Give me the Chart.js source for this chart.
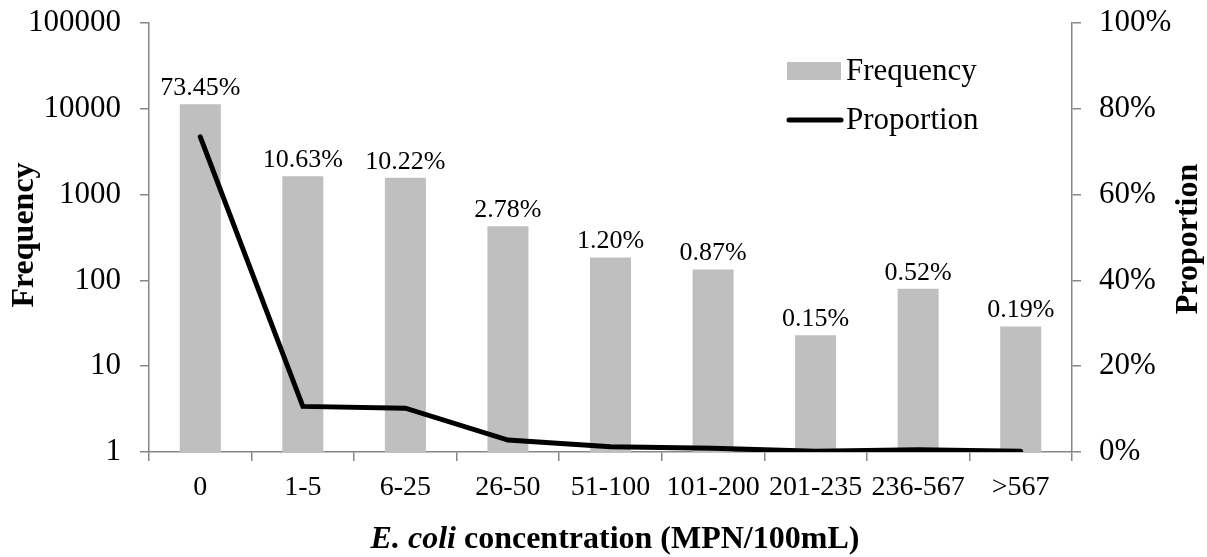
<!DOCTYPE html>
<html>
<head>
<meta charset="utf-8">
<script src="https://cdn.jsdelivr.net/npm/chart.js@4/dist/chart.umd.min.js"></script>
<style>
    body { margin: 0; background: #ffffff; }
    #wrap { width: 1207px; height: 557px; position: relative; }
</style>
</head>
<body>
<div id="wrap"><canvas id="ecoliChart" width="1207" height="557"></canvas></div>
<script>
// data
const categories = ['0', '1-5', '6-25', '26-50', '51-100', '101-200', '201-235', '236-567', '>567'];
const frequency = [11310, 1637, 1574, 428, 185, 134, 23, 80, 29];
const proportion = [73.45, 10.63, 10.22, 2.78, 1.20, 0.87, 0.15, 0.52, 0.19];
const freqTicks = [1, 10, 100, 1000, 10000, 100000];

const serif = '"Liberation Serif", "Times New Roman", serif';
const axisGray = '#868686';

// percent labels above the bars
const barLabels = {
    id: 'barLabels',
    afterDatasetsDraw(chart) {
        const ctx = chart.ctx;
        const meta = chart.getDatasetMeta(0);
        ctx.save();
        ctx.font = '26px ' + serif;
        ctx.fillStyle = '#000';
        ctx.textAlign = 'center';
        ctx.textBaseline = 'bottom';
        meta.data.forEach((bar, i) => {
            ctx.fillText(proportion[i].toFixed(2) + '%', bar.x, bar.y - 3);
        });
        ctx.restore();
    }
};

// legend + axis titles drawn by hand (Excel style)
const decorations = {
    id: 'decorations',
    afterDraw(chart) {
        const ctx = chart.ctx;
        ctx.save();

        // legend
        ctx.fillStyle = '#bfbfbf';
        ctx.fillRect(787, 62, 54, 18);
        ctx.strokeStyle = '#000';
        ctx.lineWidth = 5;
        ctx.lineCap = 'round';
        ctx.beginPath();
        ctx.moveTo(789, 120);
        ctx.lineTo(841, 120);
        ctx.stroke();
        ctx.fillStyle = '#000';
        ctx.font = '31px ' + serif;
        ctx.textAlign = 'left';
        ctx.textBaseline = 'middle';
        ctx.fillText('Frequency', 846, 72);
        ctx.fillText('Proportion', 846, 121);

        // y titles
        ctx.font = 'bold 32px ' + serif;
        ctx.textAlign = 'center';
        ctx.textBaseline = 'middle';
        ctx.save();
        ctx.translate(25, 235);
        ctx.rotate(-Math.PI / 2);
        ctx.fillText('Frequency', 0, 0);
        ctx.restore();
        ctx.save();
        ctx.translate(1189, 239);
        ctx.rotate(-Math.PI / 2);
        ctx.fillText('Proportion', 0, 0);
        ctx.restore();

        // x title, "E. coli" in italic
        const part1 = 'E. coli';
        const part2 = ' concentration (MPN/100mL)';
        ctx.textAlign = 'left';
        ctx.textBaseline = 'alphabetic';
        ctx.font = 'italic bold 32px ' + serif;
        const w1 = ctx.measureText(part1).width;
        ctx.font = 'bold 32px ' + serif;
        const w2 = ctx.measureText(part2).width;
        const startX = 615 - (w1 + w2) / 2;
        ctx.font = 'italic bold 32px ' + serif;
        ctx.fillText(part1, startX, 548);
        ctx.font = 'bold 32px ' + serif;
        ctx.fillText(part2, startX + w1, 548);

        ctx.restore();
    }
};

new Chart(document.getElementById('ecoliChart'), {
    data: {
        labels: categories,
        datasets: [
            {
                type: 'bar',
                label: 'Frequency',
                data: frequency,
                backgroundColor: '#bfbfbf',
                barPercentage: 0.4,
                categoryPercentage: 1,
                yAxisID: 'y',
                order: 1
            },
            {
                type: 'line',
                label: 'Proportion',
                data: proportion,
                borderColor: '#000',
                borderWidth: 5,
                borderCapStyle: 'round',
                pointRadius: 0,
                tension: 0,
                fill: false,
                yAxisID: 'y1',
                order: 0
            }
        ]
    },
    options: {
        responsive: false,
        animation: false,
        layout: { padding: { top: 23, left: 0, right: 0, bottom: 0 } },
        plugins: {
            legend: { display: false },
            tooltip: { enabled: false }
        },
        scales: {
            x: {
                offset: true,
                grid: { offset: true, drawOnChartArea: false, tickLength: 9, color: axisGray, lineWidth: 1.5 },
                border: { color: axisGray, width: 1.5 },
                ticks: { color: '#000', font: { family: serif, size: 28 }, padding: 10, maxRotation: 0, autoSkip: false },
                afterFit: (scale) => { scale.height = 105; }
            },
            y: {
                type: 'logarithmic',
                position: 'left',
                min: 1,
                max: 100000,
                afterBuildTicks: (scale) => { scale.ticks = freqTicks.map(v => ({ value: v })); },
                grid: { drawOnChartArea: false, tickLength: 9, color: axisGray, lineWidth: 1.5 },
                border: { color: axisGray, width: 1.5 },
                ticks: { color: '#000', font: { family: serif, size: 31, lineHeight: 0.25 }, padding: 19, callback: (v) => String(v) },
                afterFit: (scale) => { scale.width = 149; }
            },
            y1: {
                type: 'linear',
                position: 'right',
                min: 0,
                max: 100,
                grid: { drawOnChartArea: false, tickLength: 9, color: axisGray, lineWidth: 1.5 },
                border: { color: axisGray, width: 1.5 },
                ticks: { color: '#000', font: { family: serif, size: 31, lineHeight: 0.25 }, padding: 18, stepSize: 20, callback: (v) => v + '%' },
                afterFit: (scale) => { scale.width = 135; }
            }
        }
    },
    plugins: [barLabels, decorations]
});
</script>
</body>
</html>
